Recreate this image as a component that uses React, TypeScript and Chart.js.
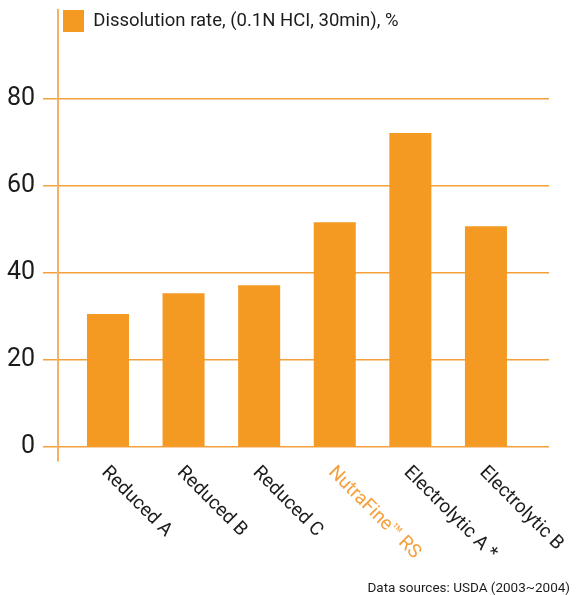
import React, { useEffect, useRef } from "react";
import { Chart, registerables } from "chart.js";

Chart.register(...registerables);

const categories = [
  "Reduced A",
  "Reduced B",
  "Reduced C",
  "NutraFine™ RS",
  "Electrolytic A *",
  "Electrolytic B",
];
const dissolutionRate = [30.6, 35.4, 37.2, 51.7, 72.2, 50.8];
const yTickValues = [0, 20, 40, 60, 80];
const highlightCategory = "NutraFine™ RS";
const seriesLabel = "Dissolution rate, (0.1N HCI, 30min), %";
const sourceNote = "Data sources: USDA (2003~2004)";

const FONT = "Roboto, 'DejaVu Sans Condensed', sans-serif";
const BAR = "#F49A23";
const GRID = "#F4A13C";
const AXIS = "#F6B262";
const TEXT = "#1c1c1c";
const HIGHLIGHT_TEXT = "#F5A03C";

const labelPlugin = {
  id: "rotatedLabels",
  afterLayout(chart: any) {
    const lg = chart.legend;
    if (lg) {
      lg.top += 5;
    }
  },
  afterDraw(chart: any) {
    const { ctx, chartArea } = chart;
    const xs = chart.scales.x;
    ctx.save();
    ctx.font = `19px ${FONT}`;
    categories.forEach((c, i) => {
      const x = xs.getPixelForValue(i);
      ctx.save();
      ctx.translate(x - 7, chartArea.bottom + 12);
      ctx.rotate(Math.PI / 4);
      ctx.textAlign = "left";
      ctx.textBaseline = "alphabetic";
      ctx.fillStyle = c === highlightCategory ? HIGHLIGHT_TEXT : TEXT;
      ctx.fillText(c, 0, 0);
      ctx.restore();
    });
    ctx.font = `13.5px ${FONT}`;
    ctx.textAlign = "right";
    ctx.textBaseline = "alphabetic";
    ctx.fillStyle = TEXT;
    ctx.fillText(sourceNote, 570, 592);
    ctx.restore();
  },
};

export default function App() {
  const ref = useRef<HTMLCanvasElement | null>(null);
  useEffect(() => {
    if (!ref.current) return;
    const chart = new Chart(ref.current, {
      type: "bar",
      data: {
        datasets: [
          {
            label: seriesLabel,
            data: dissolutionRate.map((v, i) => ({ x: i, y: v })),
            backgroundColor: BAR,
            borderWidth: 0,
            categoryPercentage: 1,
            barPercentage: 0.556,
          },
        ],
      },
      options: {
        animation: false,
        responsive: true,
        maintainAspectRatio: false,
        layout: { padding: { top: 10, bottom: 134, right: 27, left: 0 } },
        plugins: {
          legend: {
            position: "chartArea",
            align: "start",
            labels: {
              boxWidth: 21,
              boxHeight: 22,
              padding: 5,
              color: TEXT,
              font: { size: 18.5, family: FONT },
            },
          },
          tooltip: { enabled: false },
        },
        scales: {
          x: {
            type: "linear",
            display: false,
            offset: false,
            bounds: "data",
            min: -0.661,
            max: 5.834,
            grid: { offset: false },
            afterBuildTicks: (s: any) => {
              s.ticks = categories.map((_, i) => ({ value: i }));
            },
          },
          y: {
            min: -3.2,
            max: 100.5,
            afterBuildTicks: (s: any) => {
              s.ticks = yTickValues.map((v) => ({ value: v }));
            },
            afterFit: (s: any) => {
              s.width = 58;
              s.paddingTop = 0;
              s.paddingBottom = 0;
            },
            grid: { color: GRID, lineWidth: 1.5, tickLength: 15, drawTicks: true },
            border: { display: true, color: AXIS, width: 2 },
            ticks: {
              color: TEXT,
              padding: 8,
              font: { size: 25, family: FONT },
            },
          },
        },
      },
      plugins: [labelPlugin],
    } as any);
    return () => chart.destroy();
  }, []);
  return (
    <div style={{ position: "fixed", left: 0, top: 0, width: 576, height: 595, background: "#fff" }}>
      <canvas ref={ref} />
    </div>
  );
}
